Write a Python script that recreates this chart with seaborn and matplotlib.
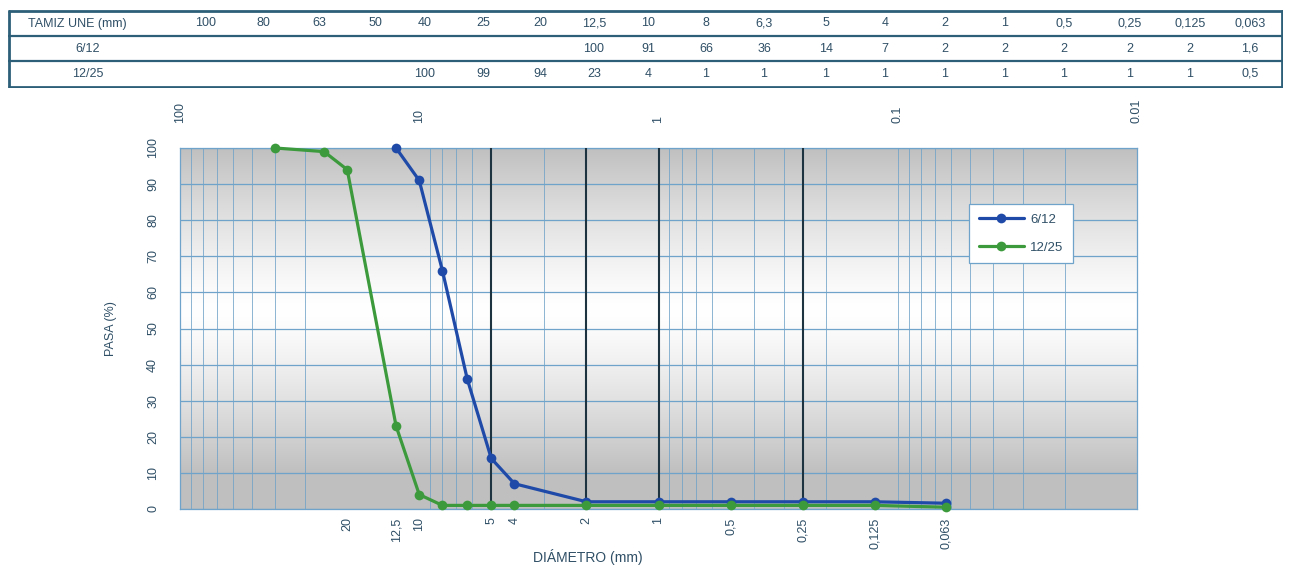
import numpy as np
import pandas as pd
import matplotlib
matplotlib.use("Agg")
import matplotlib.pyplot as plt
import seaborn as sns
from matplotlib.ticker import LogLocator, FixedLocator, NullFormatter

# ---------------- data ----------------
sieves = [100, 80, 63, 50, 40, 25, 20, 12.5, 10, 8, 6.3, 5, 4, 2, 1, 0.5, 0.25, 0.125, 0.063]
sieve_labels = ["100", "80", "63", "50", "40", "25", "20", "12,5", "10", "8", "6,3", "5", "4",
                "2", "1", "0,5", "0,25", "0,125", "0,063"]
series_names = ["6/12", "12/25"]
pass_612 = [None, None, None, None, None, None, None, 100, 91, 66, 36, 14, 7, 2, 2, 2, 2, 2, 1.6]
pass_1225 = [None, None, None, None, 100, 99, 94, 23, 4, 1, 1, 1, 1, 1, 1, 1, 1, 1, 0.5]
bottom_ticks = [20, 12.5, 10, 5, 4, 2, 1, 0.5, 0.25, 0.125, 0.063]
bottom_tick_labels = ["20", "12,5", "10", "5", "4", "2", "1", "0,5", "0,25", "0,125", "0,063"]
top_ticks = [100, 10, 1, 0.1, 0.01]
top_tick_labels = ["100", "10", "1", "0.1", "0.01"]
dark_lines = [5, 2, 1, 0.25]
y_ticks = list(range(0, 101, 10))

def fmt(v):
    if v is None:
        return ""
    if float(v).is_integer():
        return str(int(v))
    return str(v).replace(".", ",")

rows = []
for name, vals in zip(series_names, [pass_612, pass_1225]):
    for s, v in zip(sieves, vals):
        if v is not None:
            rows.append({"Tamiz": s, "Pasa": v, "Serie": name})
df = pd.DataFrame(rows)

# ---------------- style ----------------
W, H = 1292, 571
fig = plt.figure(figsize=(W / 100, H / 100), dpi=100)
sns.set_style("white")
plt.rcParams["font.family"] = ["Liberation Sans", "DejaVu Sans"]

txt_col = "#2f4f66"
grid_col = "#6fa3c9"
blue = "#1f4aa8"
green = "#3c9a3c"

# axes geometry (pixels)
L, R, T, B = 180, 1137, 148, 509
pos = [L / W, (H - B) / H, (R - L) / W, (B - T) / H]

# background gradient axes
bg = fig.add_axes(pos, zorder=0)
yy = np.linspace(0, 1, 256)
prof = np.clip(np.abs(yy - 0.55) / 0.45, 0, 1) ** 1.3
grad = 1.0 - 0.25 * prof
g2 = np.repeat(grad[:, None], 2, axis=1)
img = np.stack([g2, g2, g2], axis=-1)
bg.imshow(img, extent=[0, 1, 0, 1], aspect="auto", origin="lower")
bg.set_axis_off()

ax = fig.add_axes(pos, zorder=1)
ax.set_facecolor("none")

sns.lineplot(data=df, x="Tamiz", y="Pasa", hue="Serie", hue_order=series_names,
             palette=[blue, green], marker="o", markersize=7, markeredgewidth=0,
             linewidth=2.3, ax=ax, clip_on=False, zorder=5)

ax.set_xscale("log")
ax.set_xlim(100, 0.01)
ax.set_ylim(0, 100)

# grid
ax.xaxis.set_major_locator(FixedLocator(bottom_ticks))
ax.xaxis.set_minor_locator(LogLocator(base=10, subs=np.arange(1, 10)))
ax.xaxis.set_minor_formatter(NullFormatter())
ax.set_xticklabels(bottom_tick_labels, rotation=90, fontsize=9, color=txt_col)
ax.set_yticks(y_ticks)
ax.set_yticklabels([str(v) for v in y_ticks], rotation=90, fontsize=9, color=txt_col, va="center")
ax.tick_params(axis="y", length=0, pad=15)
ax.tick_params(axis="x", which="both", length=0, pad=6)
ax.grid(False)
ax.xaxis.grid(True, which="minor", color=grid_col, linewidth=0.7, alpha=0.8)
ax.yaxis.grid(True, which="major", color=grid_col, linewidth=0.9)
for xv in dark_lines:
    ax.axvline(xv, color="#1d3440", linewidth=1.5, zorder=3)

for sp in ax.spines.values():
    sp.set_color(grid_col)
    sp.set_linewidth(0.9)

ax.set_xlabel("DIÁMETRO (mm)", fontsize=10, color=txt_col)
ax.xaxis.set_label_coords(0.426, -0.11)
ax.set_ylabel("PASA (%)", fontsize=9, color=txt_col)
ax.yaxis.set_label_coords(-0.066, 0.5)

# top axis
top = ax.secondary_xaxis("top")
top.set_xticks(top_ticks)
top.set_xticklabels(top_tick_labels, rotation=90, fontsize=9, color=txt_col)
top.xaxis.set_minor_locator(FixedLocator([]))
top.tick_params(length=0, pad=18)
top.spines["top"].set_visible(False)

leg = ax.legend(loc="upper left", bbox_to_anchor=(0.818, 0.862), frameon=True, fancybox=False,
                framealpha=1, edgecolor=grid_col, fontsize=9.5, handlelength=3.4,
                borderpad=0.7, labelspacing=1.2, handletextpad=0.5)
for t in leg.get_texts():
    t.set_color(txt_col)
leg.get_frame().set_linewidth(0.9)

# ---------------- table ----------------
tL, tR, tT, tB = 8, 1283, 10, 88
tab = fig.add_axes([tL / W, (H - tB) / H, (tR - tL) / W, (tB - tT) / H])
tab.set_xlim(tL, tR)
tab.set_ylim(tB, tT)
tab.set_axis_off()
border = "#2d5f78"
hlines = [11, 36, 61, 87]
for i, yv in enumerate(hlines):
    tab.plot([tL, tR], [yv, yv], color=border, lw=2.0 if i in (0, 3) else 1.6, solid_capstyle="butt")
tab.plot([tL + 1, tL + 1], [hlines[0], hlines[-1]], color=border, lw=2.0)
tab.plot([tR - 1, tR - 1], [hlines[0], hlines[-1]], color=border, lw=2.0)

col_centers = [206, 263, 319, 375, 425, 483, 540, 594, 648, 706, 764, 826, 885, 945,
               1005, 1064, 1130, 1190, 1250]
row_c = [(hlines[i] + hlines[i + 1]) / 2 for i in range(3)]
tab.text(28, row_c[0], "TAMIZ UNE (mm)", ha="left", va="center", fontsize=9, color=txt_col)
tab.text(88, row_c[1], series_names[0], ha="center", va="center", fontsize=9, color=txt_col)
tab.text(88, row_c[2], series_names[1], ha="center", va="center", fontsize=9, color=txt_col)
for j, lab in enumerate(sieve_labels):
    xc = col_centers[j]
    tab.text(xc, row_c[0], lab, ha="center", va="center", fontsize=9, color=txt_col)
    tab.text(xc, row_c[1], fmt(pass_612[j]), ha="center", va="center", fontsize=9, color=txt_col)
    tab.text(xc, row_c[2], fmt(pass_1225[j]), ha="center", va="center", fontsize=9, color=txt_col)

fig.savefig("out.png", dpi=100)
